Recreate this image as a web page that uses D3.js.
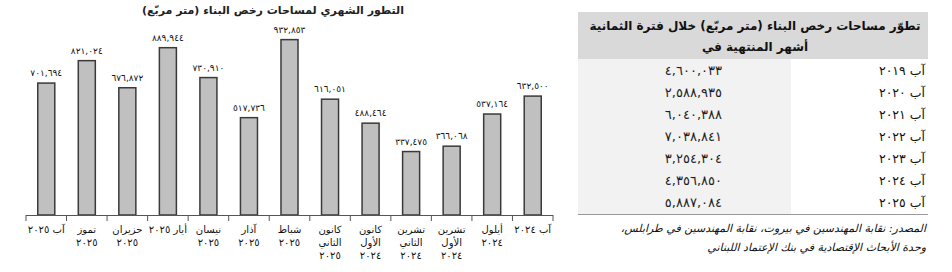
<!DOCTYPE html>
<html>
<head>
<meta charset="utf-8">
<script src="https://cdn.jsdelivr.net/npm/d3@7"></script>
<style>
  body { margin: 0; background: #fff; }
  svg text { font-family: "DejaVu Sans", sans-serif; }
</style>
</head>
<body>
<div id="chart"></div>
<script>
// ======================= //
// DATA
// ======================= //

// months, left to right as drawn
var months = [
  ["آب ٢٠٢٥"],
  ["تموز", "٢٠٢٥"],
  ["حزيران", "٢٠٢٥"],
  ["أيار ٢٠٢٥"],
  ["نيسان", "٢٠٢٥"],
  ["آذار", "٢٠٢٥"],
  ["شباط", "٢٠٢٥"],
  ["كانون", "الثاني", "٢٠٢٥"],
  ["كانون", "الأول", "٢٠٢٤"],
  ["تشرين", "الثاني", "٢٠٢٤"],
  ["تشرين", "الأول", "٢٠٢٤"],
  ["أيلول", "٢٠٢٤"],
  ["آب ٢٠٢٤"]
]
var areas = [701694, 821024, 676872, 889944, 730910, 517736, 932853, 616051, 488464, 337475, 366068, 537164, 632500]

// summary table
var tableYears = ["آب ٢٠١٩", "آب ٢٠٢٠", "آب ٢٠٢١", "آب ٢٠٢٢", "آب ٢٠٢٣", "آب ٢٠٢٤", "آب ٢٠٢٥"]
var tableValues = [4600033, 2588935, 6040388, 7038841, 3254304, 4356850, 5887084]

var chartTitle = "التطور الشهري لمساحات رخص البناء (متر مربّع)"
var tableTitle = ["تطوّر مساحات رخص البناء (متر مربّع) خلال فترة الثمانية", "أشهر المنتهية في"]
var sourceLines = ["المصدر: نقابة المهندسين في بيروت، نقابة المهندسين في طرابلس،", "وحدة الأبحاث الإقتصادية في بنك الإعتماد اللبناني"]

// arabic-indic digits with latin commas
var arDigits = "٠١٢٣٤٥٦٧٨٩"
function toArabic(n) {
  return d3.format(",")(n).replace(/[0-9]/g, function(c){ return arDigits[+c] })
}

// ======================= //
// SVG
// ======================= //

var svg = d3.select("#chart")
  .append("svg")
  .attr("width", 952)
  .attr("height", 272)

// ======================= //
// BAR CHART
// ======================= //

var x = d3.scaleBand()
  .domain(d3.range(months.length))
  .range([26, 553])
  .paddingInner(0.58)
  .paddingOuter(0.29)

var y = d3.scaleLinear()
  .domain([0, 1000000])
  .range([215, 27])

svg.append("text")
  .attr("x", 273)
  .attr("y", 14)
  .attr("text-anchor", "middle")
  .attr("direction", "rtl")
  .style("font-size", "11px")
  .style("font-weight", "bold")
  .style("fill", "#222")
  .text(chartTitle)

svg.selectAll(".bar")
  .data(areas)
  .enter()
  .append("rect")
    .attr("class", "bar")
    .attr("x", function(d, i){ return x(i) })
    .attr("y", function(d){ return y(d) })
    .attr("width", x.bandwidth())
    .attr("height", function(d){ return y(0) - y(d) })
    .style("fill", "#c0c0c0")
    .style("stroke", "#3a3a3a")
    .style("stroke-width", 1.5)

svg.selectAll(".barLabel")
  .data(areas)
  .enter()
  .append("text")
    .attr("class", "barLabel")
    .attr("x", function(d, i){ return x(i) + x.bandwidth()/2 })
    .attr("y", function(d){ return y(d) - 7 })
    .attr("text-anchor", "middle")
    .style("font-size", "9px")
    .style("fill", "#111")
    .text(function(d){ return toArabic(d) })

// axis with ticks between bands
var tickScale = d3.scaleLinear().domain([0, months.length]).range([26, 553])
svg.append("line")
  .attr("x1", 26).attr("x2", 553)
  .attr("y1", 215.5).attr("y2", 215.5)
  .style("stroke", "#555")
  .style("stroke-width", 1.2)
svg.selectAll(".tick")
  .data(d3.range(months.length + 1))
  .enter()
  .append("line")
    .attr("x1", function(d){ return tickScale(d) })
    .attr("x2", function(d){ return tickScale(d) })
    .attr("y1", 215).attr("y2", 221)
    .style("stroke", "#555")

var xLabels = svg.selectAll(".xLabel")
  .data(months)
  .enter()
  .append("text")
    .attr("class", "xLabel")
    .attr("text-anchor", "middle")
    .attr("direction", "rtl")
    .style("font-size", "10px")
    .style("fill", "#111")
xLabels.each(function(lines, i){
  var t = d3.select(this)
  lines.forEach(function(l, j){
    t.append("tspan")
      .attr("x", tickScale(i + 0.5))
      .attr("y", 233 + j*13)
      .text(l)
  })
})

// ======================= //
// TABLE
// ======================= //

var tLeft = 578, tRight = 928, tSplit = 791
var headTop = 12, headBottom = 59, rowH = 22

svg.append("rect")
  .attr("x", tLeft).attr("y", headTop)
  .attr("width", tRight - tLeft).attr("height", headBottom - headTop)
  .style("fill", "#d9d9d9")

svg.append("rect")
  .attr("x", tLeft).attr("y", headBottom)
  .attr("width", tSplit - tLeft).attr("height", rowH * tableYears.length + 1)
  .style("fill", "#f2f2f2")

svg.append("text")
  .attr("text-anchor", "middle")
  .attr("direction", "rtl")
  .style("font-size", "12px")
  .style("font-weight", "bold")
  .style("fill", "#111")
  .selectAll("tspan")
  .data(tableTitle)
  .enter()
  .append("tspan")
    .attr("x", 755)
    .attr("y", function(d, i){ return 30 + i*21 })
    .text(function(d){ return d })

var rowY = function(i){ return headBottom + rowH*i + 16 }

svg.selectAll(".tYear")
  .data(tableYears)
  .enter()
  .append("text")
    .attr("class", "tYear")
    .attr("x", 925)
    .attr("y", function(d, i){ return rowY(i) })
    .attr("text-anchor", "start")
    .attr("direction", "rtl")
    .style("font-size", "12.5px")
    .style("fill", "#111")
    .text(function(d){ return d })

svg.selectAll(".tValue")
  .data(tableValues)
  .enter()
  .append("text")
    .attr("class", "tValue")
    .attr("x", 722)
    .attr("y", function(d, i){ return rowY(i) })
    .attr("text-anchor", "end")
    .style("font-size", "13px")
    .style("fill", "#222")
    .text(function(d){ return toArabic(d) })

svg.append("line")
  .attr("x1", tLeft).attr("x2", tRight)
  .attr("y1", headBottom + rowH*tableYears.length + 1.5)
  .attr("y2", headBottom + rowH*tableYears.length + 1.5)
  .style("stroke", "#999")
  .style("stroke-width", 1.2)

svg.append("text")
  .attr("direction", "rtl")
  .attr("text-anchor", "start")
  .style("font-size", "11px")
  .style("font-style", "italic")
  .style("fill", "#111")
  .selectAll("tspan")
  .data(sourceLines)
  .enter()
  .append("tspan")
    .attr("x", 926)
    .attr("y", function(d, i){ return 232 + i*19 })
    .text(function(d){ return d })
</script>
</body>
</html>
